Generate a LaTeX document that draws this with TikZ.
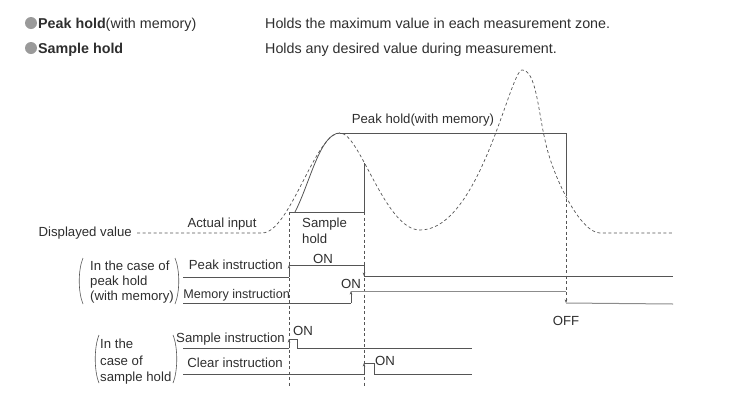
\documentclass[tikz,border=0pt]{standalone}
\usepackage{fontspec}
\setmainfont{Liberation Sans}
\usetikzlibrary{arrows.meta}
\definecolor{txt}{HTML}{2E2E2E}
\definecolor{ln}{HTML}{555555}
\definecolor{lnlight}{HTML}{8C8C8C}
\definecolor{dot}{HTML}{9A9A9A}
\begin{document}
\begin{tikzpicture}[x=1pt,y=-1pt,
  font=\fontsize{13.2}{15}\selectfont,
  lbl/.style={inner sep=0pt, text=txt},
  head/.style={inner sep=0pt, text=txt, font=\fontsize{14.3}{16}\selectfont},
  sig/.style={draw=ln, line width=0.8pt},
  siglight/.style={draw=lnlight, line width=1pt},
  dsh/.style={draw=ln, line width=0.7pt, dash pattern=on 3pt off 2.5pt},
  tip/.style={-{Stealth[length=3.5pt,width=2.6pt]}},
  bullet/.style={circle, fill=dot, minimum size=12pt, inner sep=0pt},
]
\useasboundingbox (0,0) rectangle (745,400);

% header
\node[bullet] (b1) at (31,23) {};
\node[bullet] (b2) at (31,48) {};
\node[head, anchor=base west] (h1) at (38,28.3) {\textbf{Peak hold}(with memory)};
\node[head, anchor=base west] (h2) at (38,53.3) {\textbf{Sample hold}};
\node[head, anchor=base west] (d1) at (265,28.3) {Holds the maximum value in each measurement zone.};
\node[head, anchor=base west] (d2) at (265,53.3) {Holds any desired value during measurement.};

% coordinates
\coordinate (dv0) at (137,233);
\coordinate (dv1) at (262,233);
\coordinate (pk1) at (340,133);
\coordinate (mn1) at (420,230);
\coordinate (pk2) at (522,70);
\coordinate (mid2) at (545,140);
\coordinate (fl) at (600,233);
\coordinate (fr) at (673,233);

% actual input (dashed)
\draw[dsh] (dv0) -- (dv1)
  .. controls (290,233) and (315,133) .. (pk1)
  .. controls (360,133) and (385,230) .. (mn1)
  .. controls (480,230) and (510,70) .. (pk2)
  .. controls (536,70) and (538,110) .. (mid2)
  .. controls (552,175) and (580,233) .. (fl) -- (fr);

% sample hold
\coordinate (sh0) at (289,212);
\coordinate (sh1) at (364,212);
\coordinate (sh2) at (364,163);
\coordinate (sc0) at (295,212);
\draw[sig] (sh0) -- (sh1) -- (sh2);
\draw[sig] (sc0) .. controls (310,183) and (320,133) .. (pk1);

% peak hold
\coordinate (ph1) at (566,133);
\coordinate (ph2) at (566,193);
\coordinate (ph3) at (566,303);
\draw[sig] (pk1) -- (ph1) -- (ph2);
\draw[dsh, tip] (ph2) -- (ph3);

% vertical markers
\coordinate (v1b) at (289,386);
\coordinate (v2b) at (364,386);
\draw[dsh] (sh0) -- (v1b);
\draw[dsh] (sh1) -- (v2b);

% labels on graph
\node[lbl, anchor=mid east] (dv) at (132,234) {Displayed value};
\node[lbl] (ai) at (222,224) {Actual input};
\node[lbl, anchor=north west, align=left, font=\fontsize{13.2}{16}\selectfont] (shl) at (302,218) {Sample\\hold};
\node[lbl] (phl) at (423,120) {Peak hold(with memory)};

% peak hold group
\node[lbl, anchor=north west, align=left, font=\fontsize{13.2}{15}\selectfont] (g1) at (90,261) {In the case of\\peak hold\\(with memory)};
\draw[ln, line width=0.6pt] (83,258) .. controls (78,270) and (78,292) .. (83,304);
\draw[ln, line width=0.6pt] (175,258) .. controls (180,270) and (180,292) .. (175,304);
\node[lbl, anchor=mid east] (pil) at (283,267) {Peak instruction};
\node[lbl, anchor=mid east, font=\fontsize{12.6}{15}\selectfont] (mil) at (290,296) {Memory instruction};

\coordinate (p0) at (183,277);
\coordinate (p1) at (289,277);
\coordinate (p2) at (289,265);
\coordinate (p3) at (364,265);
\coordinate (p4) at (364,276);
\coordinate (p5) at (673,276);
\draw[sig] (p0) -- (p1);
\draw[sig, tip] (p1) -- (p2);
\draw[sig] (p2) -- (p3);
\draw[sig, tip] (p3) -- (p4);
\draw[sig] (p4) -- (p5);
\node[lbl] (on1) at (323,259) {ON};

\coordinate (m0) at (183,303);
\coordinate (m1) at (351,303);
\coordinate (m2) at (351,291);
\coordinate (m3) at (566,291);
\coordinate (m4) at (673,304);
\draw[sig] (m0) -- (m1);
\draw[sig, tip] (m1) -- (m2);
\draw[siglight] (m2) -- (m3);
\draw[siglight] (ph3) -- (m4);
\node[lbl] (on2) at (351,284) {ON};
\node[lbl] (off) at (566,321) {OFF};

% sample hold group
\node[lbl, anchor=north west, align=left, font=\fontsize{13.2}{16.5}\selectfont] (g2) at (100,339) {In the\\case of\\sample hold};
\draw[ln, line width=0.6pt] (99,335) .. controls (94,347) and (94,371) .. (99,383);
\draw[ln, line width=0.6pt] (173,335) .. controls (178,347) and (178,371) .. (173,383);
\node[lbl, anchor=mid east] (sil) at (285,340) {Sample instruction};
\node[lbl, anchor=mid east] (cil) at (283,365) {Clear instruction};

\coordinate (s0) at (183,348);
\coordinate (s1) at (289,348);
\coordinate (s2) at (289,339);
\coordinate (s3) at (297,339);
\coordinate (s4) at (297,348);
\coordinate (s5) at (472,348);
\draw[sig] (s0) -- (s1);
\draw[sig, tip] (s1) -- (s2);
\draw[sig] (s2) -- (s3) -- (s4) -- (s5);
\node[lbl] (on3) at (303,331) {ON};

\coordinate (c0) at (183,374);
\coordinate (c1) at (364,374);
\coordinate (c2) at (364,363);
\coordinate (c3) at (374,363);
\coordinate (c4) at (374,374);
\coordinate (c5) at (472,374);
\draw[sig] (c0) -- (c1);
\draw[sig, tip] (c1) -- (c2);
\draw[sig] (c2) -- (c3) -- (c4) -- (c5);
\node[lbl, anchor=mid west] (on4) at (375,363) {ON};
\end{tikzpicture}
\end{document}
